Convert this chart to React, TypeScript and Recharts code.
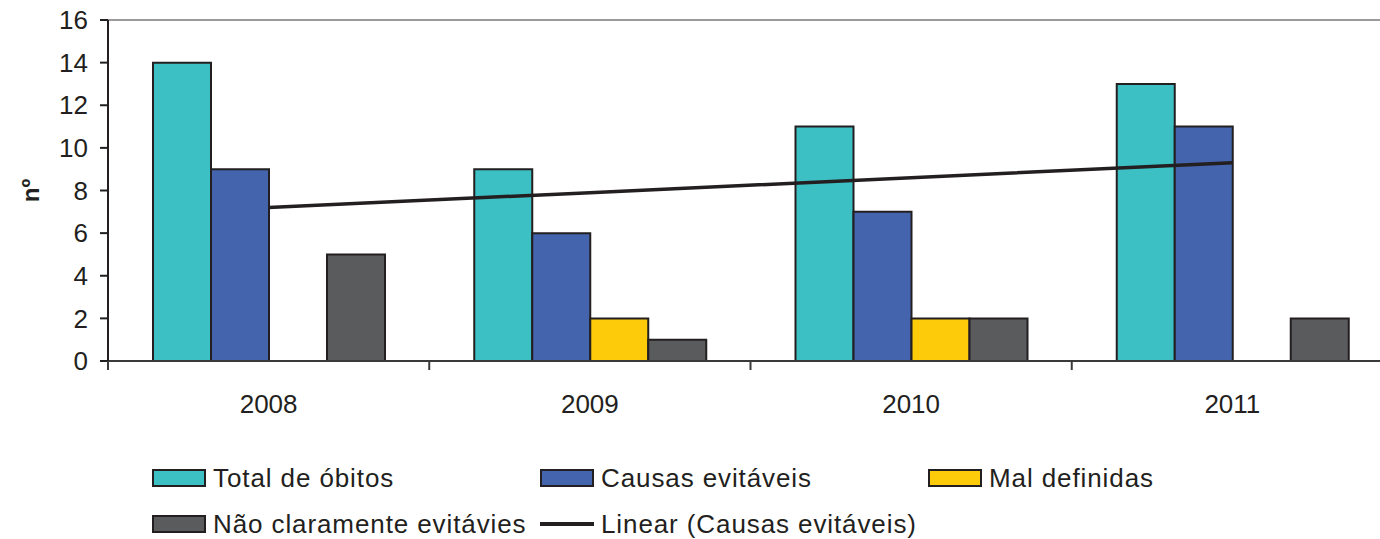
import React from "react"
import { ComposedChart, Bar, Line, XAxis, YAxis, ReferenceLine, Legend } from "recharts"

const years = ["2008", "2009", "2010", "2011"]
const totalObitos = [14, 9, 11, 13]
const causasEvitaveis = [9, 6, 7, 11]
const malDefinidas: (number | null)[] = [null, 2, 2, null]
const naoClaramente = [5, 1, 2, 2]
// linear trend of "Causas evitáveis"
const linearCausas = [7.2, 7.9, 8.6, 9.3]
const yTicks = [0, 2, 4, 6, 8, 10, 12, 14, 16]

const data = years.map((year, i) => ({
  year,
  total: totalObitos[i],
  causas: causasEvitaveis[i],
  mal: malDefinidas[i],
  nao: naoClaramente[i],
  linear: linearCausas[i],
}))

const FONT = "'Liberation Sans', Arial, sans-serif"
const INK = "#231F20"
const WIDTH = 1400
const HEIGHT = 539
const MARGIN = { top: 20, right: 7, left: 0, bottom: 0 }
const Y_AXIS_WIDTH = 108
const BAND = (WIDTH - MARGIN.left - MARGIN.right - Y_AXIS_WIDTH) / years.length

const legendItems = [
  { label: "Total de óbitos", color: "#3CC0C4", kind: "box", col: 0, row: 0 },
  { label: "Causas evitáveis", color: "#4464AD", kind: "box", col: 1, row: 0 },
  { label: "Mal definidas", color: "#FDCB0A", kind: "box", col: 2, row: 0 },
  { label: "Não claramente evitávies", color: "#5A5B5C", kind: "box", col: 0, row: 1 },
  { label: "Linear (Causas evitáveis)", color: INK, kind: "line", col: 1, row: 1 },
]

function YearTick(props: any) {
  const { x, y, payload } = props
  const left = x - BAND / 2
  return (
    <g>
      <line x1={left} x2={left} y1={y} y2={y + 9} stroke="#3a3a3a" strokeWidth={2} />
      <text x={x} y={y + 52} textAnchor="middle" fontSize={26} fontFamily={FONT} fill={INK}>
        {payload.value}
      </text>
    </g>
  )
}

function ChartLegend() {
  return (
    <div
      style={{
        position: "relative",
        width: WIDTH,
        height: 118,
        fontFamily: FONT,
        fontSize: 26,
        letterSpacing: 0.9,
        color: INK,
      }}
    >
      {legendItems.map((item) => (
        <div
          key={item.label}
          style={{
            position: "absolute",
            left: 152 + item.col * 388,
            top: 41 + item.row * 46,
            height: 32,
            display: "flex",
            alignItems: "center",
            whiteSpace: "nowrap",
          }}
        >
          {item.kind === "box" ? (
            <span
              style={{
                display: "inline-block",
                width: 50,
                height: 14,
                background: item.color,
                border: `2px solid ${INK}`,
              }}
            />
          ) : (
            <span style={{ display: "inline-block", width: 54, height: 4, background: item.color }} />
          )}
          <span style={{ marginLeft: 7 }}>{item.label}</span>
        </div>
      ))}
    </div>
  )
}

export default function App() {
  return (
    <div style={{ position: "absolute", left: 0, top: 0, width: 1380, height: HEIGHT, overflow: "hidden", background: "#fff" }}>
      <ComposedChart width={WIDTH} height={HEIGHT} data={data} margin={MARGIN} barGap={0}>
        <ReferenceLine y={16} stroke="#9a9a9a" strokeWidth={2} />
        <XAxis
          dataKey="year"
          height={60}
          tickLine={false}
          tickSize={0}
          tickMargin={0}
          axisLine={{ stroke: "#3a3a3a", strokeWidth: 2 }}
          tick={<YearTick />}
          interval={0}
        />
        <YAxis
          width={Y_AXIS_WIDTH}
          domain={[0, 16]}
          ticks={yTicks}
          interval={0}
          tickSize={8}
          tickMargin={12}
          axisLine={{ stroke: INK, strokeWidth: 2 }}
          tickLine={{ stroke: INK, strokeWidth: 2 }}
          tick={{ fontSize: 26, fontFamily: FONT, fill: INK }}
          label={({ viewBox }: any) => (
            <text
              x={30}
              y={viewBox.y + viewBox.height / 2}
              transform={`rotate(-90, 30, ${viewBox.y + viewBox.height / 2})`}
              textAnchor="middle"
              dominantBaseline="central"
              fontSize={24}
              fontWeight="bold"
              fontFamily={FONT}
              fill={INK}
            >
              nº
            </text>
          )}
        />
        <Legend verticalAlign="bottom" wrapperStyle={{ left: 0, width: WIDTH }} content={<ChartLegend />} />
        <Bar dataKey="total" name="Total de óbitos" fill="#3CC0C4" stroke={INK} strokeWidth={2} barSize={58} isAnimationActive={false} />
        <Bar dataKey="causas" name="Causas evitáveis" fill="#4464AD" stroke={INK} strokeWidth={2} barSize={58} isAnimationActive={false} />
        <Bar dataKey="mal" name="Mal definidas" fill="#FDCB0A" stroke={INK} strokeWidth={2} barSize={58} isAnimationActive={false} />
        <Bar dataKey="nao" name="Não claramente evitávies" fill="#5A5B5C" stroke={INK} strokeWidth={2} barSize={58} isAnimationActive={false} />
        <Line
          dataKey="linear"
          name="Linear (Causas evitáveis)"
          type="linear"
          stroke={INK}
          strokeWidth={3.5}
          dot={false}
          activeDot={false}
          isAnimationActive={false}
        />
      </ComposedChart>
    </div>
  )
}
